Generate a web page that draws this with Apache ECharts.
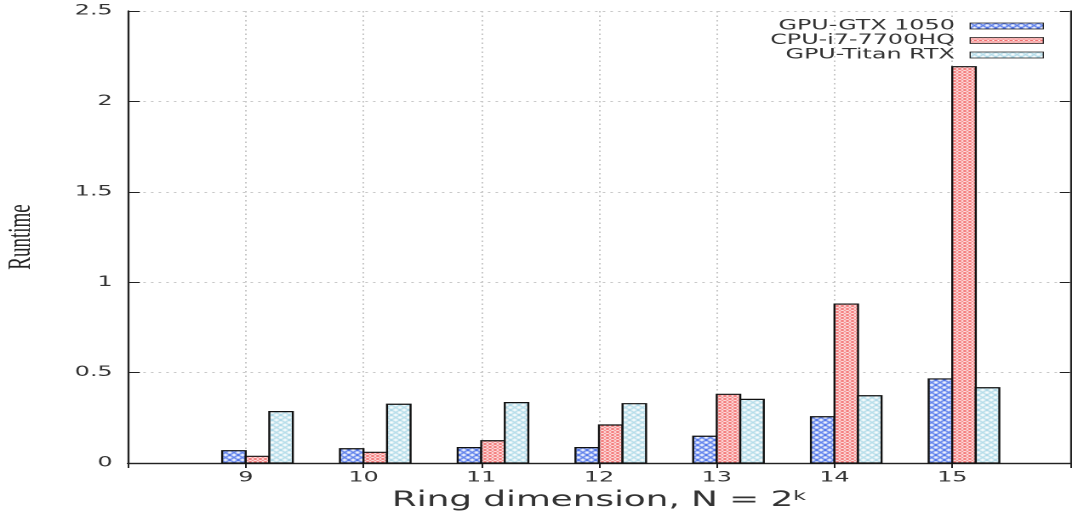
<!DOCTYPE html>
<html>
<head>
<meta charset="utf-8">
<script src="https://cdn.jsdelivr.net/npm/echarts@6/dist/echarts.min.js"></script>
<style>
html,body{margin:0;padding:0;background:#fff;overflow:hidden;}
#wrap{width:1072px;height:516px;overflow:hidden;}
#c{width:630px;height:516px;transform:scaleX(1.7016);transform-origin:0 0;}
</style>
</head>
<body>
<div id="wrap"><div id="c"></div></div>
<script>
// ---- data ----
const categories = [9, 10, 11, 12, 13, 14, 15];
const gtx1050 = [0.068, 0.079, 0.085, 0.085, 0.148, 0.256, 0.465];
const i7_7700hq = [0.037, 0.059, 0.123, 0.210, 0.380, 0.879, 2.192];
const titanRtx = [0.284, 0.325, 0.334, 0.328, 0.352, 0.372, 0.416];
const seriesNames = ['GPU-GTX 1050', 'CPU-i7-7700HQ', 'GPU-Titan RTX'];
const yTicks = [0, 0.5, 1, 1.5, 2, 2.5];

function hatch(w, h, color, lw) {
  const cv = document.createElement('canvas');
  cv.width = w; cv.height = h;
  const ctx = cv.getContext('2d');
  ctx.fillStyle = '#fff';
  ctx.fillRect(0, 0, w, h);
  ctx.strokeStyle = color;
  ctx.lineWidth = lw;
  for (const dx of [-w, 0, w]) {
    ctx.beginPath(); ctx.moveTo(dx, 0); ctx.lineTo(dx + w, h); ctx.stroke();
    ctx.beginPath(); ctx.moveTo(dx + w, 0); ctx.lineTo(dx, h); ctx.stroke();
  }
  return { image: cv, repeat: 'repeat' };
}
const patterns = [
  hatch(5, 5, '#3d66e8', 1.1),
  hatch(3, 3, '#f04a4a', 0.8),
  hatch(5, 5, '#a6d6e6', 1.1)
];
const barW = 0.2;
const offsets = [-0.2, 0, 0.2];
const datasets = [gtx1050, i7_7700hq, titanRtx];

function makeSeries(idx) {
  return {
    type: 'custom',
    name: seriesNames[idx],
    xAxisIndex: 0, yAxisIndex: 0,
    itemStyle: { color: patterns[idx], borderColor: '#222', borderWidth: 0.7 },
    data: categories.map((c, i) => [c, datasets[idx][i]]),
    renderItem: function (params, api) {
      const x = api.value(0), y = api.value(1);
      const p1 = api.coord([x + offsets[idx], y]);
      const p2 = api.coord([x + offsets[idx] + barW, 0]);
      return {
        type: 'rect',
        shape: { x: p1[0], y: p1[1], width: p2[0] - p1[0], height: p2[1] - p1[1] },
        style: { fill: patterns[idx], stroke: '#111', lineWidth: 1.2 }
      };
    }
  };
}

const chart = echarts.init(document.getElementById('c'), null, { devicePixelRatio: 2 });
const axisLine = { show: true, lineStyle: { color: '#222', width: 1.2 } };
const split = { show: true, lineStyle: { color: '#c8c8c8', type: [1.5, 3], width: 1 } };
chart.setOption({
  animation: false,
  backgroundColor: '#fff',
  grid: { left: 75.2, right: 1.2, top: 11, bottom: 53, containLabel: false, outerBoundsMode: 'none' },
  legend: {
    orient: 'vertical',
    right: 16.5, top: 19,
    padding: 0,
    align: 'right',
    itemWidth: 43, itemHeight: 6,
    itemGap: 0.5,
    icon: 'rect',
    itemStyle: { borderWidth: 0.7, borderColor: '#222' },
    textStyle: { fontSize: 14, color: '#333', fontFamily: 'DejaVu Sans', lineHeight: 14, padding: [0, 4, 0, 0] },
    data: seriesNames,
    selectedMode: false
  },
  xAxis: [{
    type: 'value', min: 8, max: 16, interval: 1, position: 'bottom',
    axisLine: axisLine,
    axisTick: { show: true, inside: true, length: 5, lineStyle: { color: '#222' } },
    axisLabel: {
      fontSize: 14, color: '#333', fontFamily: 'DejaVu Sans', margin: 8,
      formatter: v => (categories.indexOf(v) >= 0 ? String(v) : '')
    },
    splitLine: split,
    name: '{a|Ring dimension, N = 2}{b|k}',
    nameLocation: 'middle', nameGap: 27,
    nameTextStyle: {
      rich: {
        a: { fontSize: 21, color: '#333', fontFamily: 'DejaVu Sans', verticalAlign: 'bottom' },
        b: { fontSize: 13, color: '#333', fontFamily: 'DejaVu Sans', verticalAlign: 'top' }
      }
    }
  }, {
    type: 'value', min: 8, max: 16, interval: 1, position: 'top',
    axisLine: axisLine,
    axisTick: { show: true, inside: true, length: 5, lineStyle: { color: '#222' } },
    axisLabel: { show: false }, splitLine: { show: false }
  }],
  yAxis: [{
    type: 'value', min: yTicks[0], max: yTicks[yTicks.length - 1], interval: 0.5,
    axisLine: axisLine,
    axisTick: { show: true, inside: true, length: 7, lineStyle: { color: '#222' } },
    axisLabel: { fontSize: 14, color: '#333', fontFamily: 'DejaVu Sans', margin: 9 },
    splitLine: split,
    name: 'Runtime', nameLocation: 'middle', nameGap: 53, nameRotate: 90,
    nameTextStyle: { fontFamily: 'Liberation Serif', fontSize: 19, color: '#222' }
  }, {
    type: 'value', min: yTicks[0], max: yTicks[yTicks.length - 1], interval: 0.5, position: 'right',
    axisLine: axisLine,
    axisTick: { show: true, inside: true, length: 6, lineStyle: { color: '#222' } },
    axisLabel: { show: false }, splitLine: { show: false }
  }],
  series: [makeSeries(0), makeSeries(1), makeSeries(2)]
});
</script>
</body>
</html>
